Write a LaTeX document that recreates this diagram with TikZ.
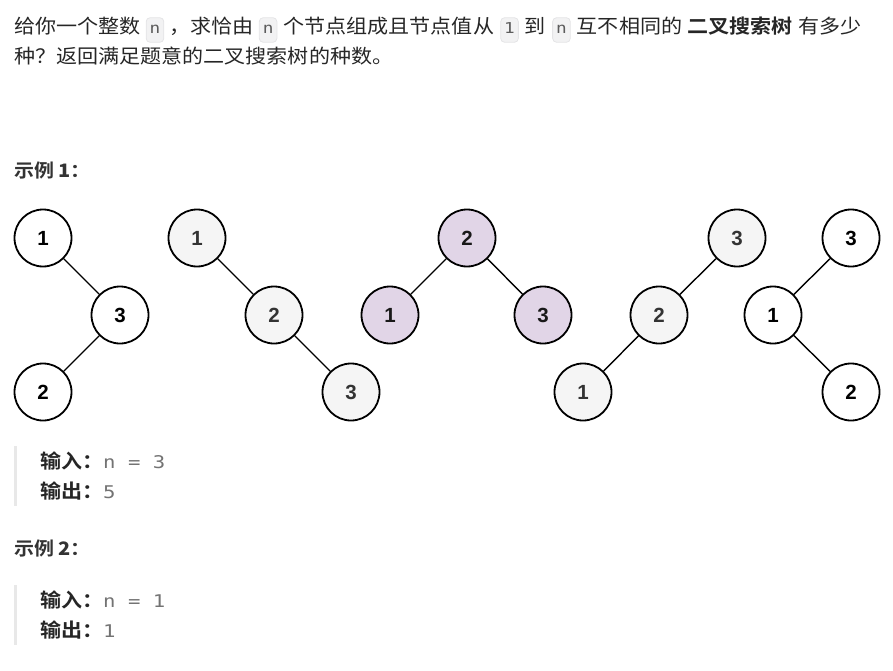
\documentclass[tikz,border=0pt]{standalone}
\usepackage{fontspec}
\setmainfont{Liberation Sans}
\newfontfamily\cjk{Noto Sans CJK SC}[FakeStretch=1.08]
\newfontfamily\cjkb{Noto Sans CJK SC Bold}[FakeStretch=1.08]
\newfontfamily\monof{DejaVu Sans Mono}[FakeStretch=1.18]
\definecolor{tx}{HTML}{262626}
\definecolor{codebg}{HTML}{F2F2F3}
\definecolor{codebd}{HTML}{E4E4E6}
\definecolor{codetx}{HTML}{5C5C5C}
\definecolor{outtx}{HTML}{737373}
\definecolor{barc}{HTML}{E8E8E8}
\definecolor{grayfill}{HTML}{F5F5F5}
\definecolor{purp}{HTML}{E1D5E7}
\definecolor{graytx}{HTML}{333333}
\tikzset{
  txt/.style={inner sep=0pt, anchor=base west, text=tx, font=\cjk\fontsize{19.5}{19.5}\selectfont},
  btxt/.style={txt, font=\cjkb\fontsize{19.5}{19.5}\selectfont},
  code/.style={anchor=base west, draw=codebd, fill=codebg, rounded corners=4pt, line width=0.8pt,
    inner xsep=3.5pt, text height=13pt, text depth=5pt, text=codetx, font=\monof\fontsize{15}{15}\selectfont},
  mono/.style={inner sep=0pt, anchor=base west, text=outtx, font=\monof\fontsize{17.5}{17.5}\selectfont},
  tnode/.style={circle, draw=black, line width=1.8pt, minimum size=57pt, inner sep=0pt,
    font=\bfseries\fontsize{20.5}{20.5}\selectfont},
  wnode/.style={tnode, fill=white, text=black},
  gnode/.style={tnode, fill=grayfill, text=graytx},
  pnode/.style={tnode, fill=purp, text=black!90},
  edge/.style={line width=1.4pt, draw=black},
  bar/.style={draw=barc, line width=3pt},
  head/.style={btxt, font=\cjkb\fontsize{18.5}{18.5}\selectfont, text=graytx}
}
\begin{document}
\begin{tikzpicture}[x=1pt,y=-1pt]
\useasboundingbox (0,0) rectangle (893,671);
% line 1
\node[txt] (a1) at (14,34) {给你一个整数};
\node[code] (c1) at ([xshift=5pt]a1.base east) {n};
\node[txt] (a2) at ([xshift=5pt]c1.base east) {，求恰由};
\node[code] (c2) at ([xshift=5pt]a2.base east) {n};
\node[txt] (a3) at ([xshift=6pt]c2.base east) {个节点组成且节点值从};
\node[code] (c3) at ([xshift=6pt]a3.base east) {1};
\node[txt] (a4) at ([xshift=6pt]c3.base east) {到};
\node[code] (c4) at ([xshift=6pt]a4.base east) {n};
\node[txt] (a5) at ([xshift=6pt]c4.base east) {互不相同的};
\node[btxt] (a6) at ([xshift=5pt]a5.base east) {二叉搜索树};
\node[txt] (a7) at ([xshift=5pt]a6.base east) {有多少};
% line 2
\node[txt] (b1) at (14,64) {种？返回满足题意的二叉搜索树的种数。};
% example 1
\node[head] (e1) at (14,177) {示例 \textbf{1}：};
% tree 1
\node[wnode] (t1a) at (43,238) {1};
\node[wnode] (t1b) at (120,315) {3};
\node[wnode] (t1c) at (43,392) {2};
\draw[edge] (t1a) -- (t1b);
\draw[edge] (t1b) -- (t1c);
% tree 2
\node[gnode] (t2a) at (197,238) {1};
\node[gnode] (t2b) at (274,315) {2};
\node[gnode] (t2c) at (351,392) {3};
\draw[edge] (t2a) -- (t2b);
\draw[edge] (t2b) -- (t2c);
% tree 3
\node[pnode] (t3a) at (467,238) {2};
\node[pnode] (t3b) at (390,315) {1};
\node[pnode] (t3c) at (543,315) {3};
\draw[edge] (t3a) -- (t3b);
\draw[edge] (t3a) -- (t3c);
% tree 4
\node[gnode] (t4a) at (737,238) {3};
\node[gnode] (t4b) at (659,315) {2};
\node[gnode] (t4c) at (583,392) {1};
\draw[edge] (t4a) -- (t4b);
\draw[edge] (t4b) -- (t4c);
% tree 5
\node[wnode] (t5a) at (851,238) {3};
\node[wnode] (t5b) at (773,315) {1};
\node[wnode] (t5c) at (851,392) {2};
\draw[edge] (t5a) -- (t5b);
\draw[edge] (t5b) -- (t5c);
% example 1 io
\coordinate (bar1s) at (15,446);
\coordinate (bar1e) at (15,506);
\draw[bar] (bar1s) -- (bar1e);
\node[btxt] (i1) at (40,468) {输入：};
\node[mono] (i1v) at (103,468) {n = 3};
\node[btxt] (o1) at (40,498) {输出：};
\node[mono] (o1v) at (103,498) {5};
% example 2
\node[head] (e2) at (14,555) {示例 \textbf{2}：};
\coordinate (bar2s) at (15,585);
\coordinate (bar2e) at (15,645);
\draw[bar] (bar2s) -- (bar2e);
\node[btxt] (i2) at (40,607) {输入：};
\node[mono] (i2v) at (103,607) {n = 1};
\node[btxt] (o2) at (40,637) {输出：};
\node[mono] (o2v) at (103,637) {1};
\end{tikzpicture}
\end{document}
